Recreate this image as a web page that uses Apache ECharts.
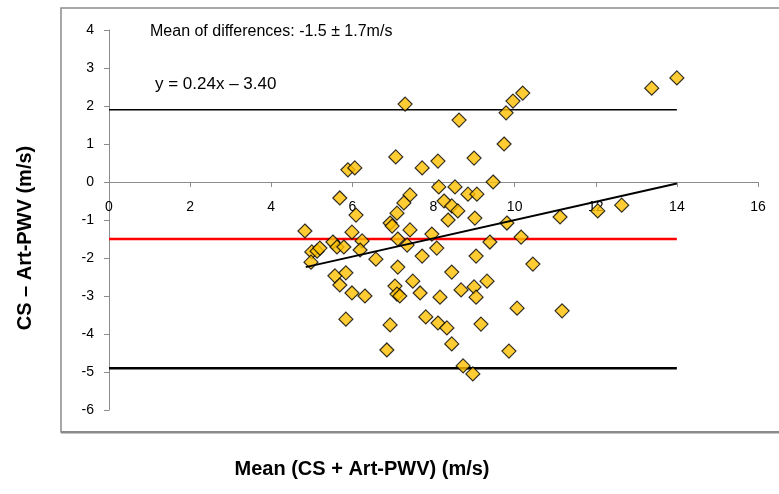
<!DOCTYPE html>
<html lang="en" style="height: 100%">
<head>
    <meta charset="utf-8">
</head>
<body style="height: 100%; margin: 0; background: #fff">
<div id="main" style="width: 779px; height: 494px"></div>

<script type="text/javascript" src="https://fastly.jsdelivr.net/npm/echarts@6.0.0/dist/echarts.min.js"></script>

<script type="text/javascript">
    // mean of the two methods (x) and their difference (y)
    var meanValues = [
        13.38, 14.00, 7.30, 10.20, 9.96, 9.79, 8.63, 9.74, 7.07, 5.89,
        6.06, 8.11, 7.72, 9.00, 9.47, 8.13, 8.53, 8.85, 9.07, 5.69,
        6.09, 7.42, 7.27, 7.10, 6.93, 6.98, 8.26, 8.45, 8.60, 8.36,
        9.02, 9.81, 11.12, 12.05, 12.64, 10.16, 10.45, 11.17, 4.83, 5.99,
        5.52, 5.62, 5.79, 6.24, 6.19, 5.00, 5.13, 5.20, 4.98, 6.58,
        7.12, 7.35, 7.42, 7.96, 8.08, 7.72, 7.12, 9.39, 9.05, 8.45,
        5.57, 5.84, 5.69, 5.99, 6.31, 7.05, 7.10, 7.17, 7.49, 7.67,
        8.16, 8.68, 9.00, 9.05, 9.32, 5.84, 6.93, 7.81, 8.11, 8.33,
        9.17, 10.06, 6.85, 8.45, 9.86, 8.73, 8.97
    ];
    var diffValues = [
        2.47, 2.74, 2.05, 2.34, 2.13, 1.82, 1.63, 1.00, 0.66, 0.32,
        0.37, 0.55, 0.37, 0.63, 0.00, -0.13, -0.13, -0.32, -0.32, -0.42,
        -0.87, -0.34, -0.55, -0.82, -1.08, -1.16, -0.50, -0.63, -0.76, -1.00,
        -0.95, -1.08, -0.92, -0.76, -0.61, -1.45, -2.16, -3.39, -1.29, -1.32,
        -1.58, -1.71, -1.71, -1.55, -1.79, -1.84, -1.82, -1.74, -2.11, -2.03,
        -1.50, -1.66, -1.26, -1.37, -1.74, -1.95, -2.24, -1.58, -1.95, -2.37,
        -2.47, -2.39, -2.71, -2.92, -3.00, -2.74, -2.95, -3.00, -2.61, -2.92,
        -3.03, -2.84, -2.76, -3.03, -2.61, -3.61, -3.76, -3.55, -3.71, -3.84,
        -3.74, -3.32, -4.42, -4.26, -4.45, -4.84, -5.05
    ];

    // limits of agreement and mean difference, drawn from 0 to 14
    var limitX = [0, 14];
    var upperLimit = 1.9;
    var meanDiff = -1.5;
    var lowerLimit = -4.9;

    // regression line y = 0.24x - 3.40
    var trendX = [4.85, 14];
    var trendY = [-2.24, -0.04];

    var xTicks = [0, 16, 2];
    var yTicks = [-6, 4, 1];

    var points = meanValues.map(function (m, i) {
        return [m, diffValues[i]];
    });

    function hLine(v) {
        return limitX.map(function (x) { return [x, v]; });
    }

    var chartDom = document.getElementById('main');
    var myChart = echarts.init(chartDom);
    var labelFont = 'Liberation Sans, Arial, sans-serif';
    var option;

    // grid is 380px tall for 10 units; the x axis sits on y = 0
    var gridTop = 30, gridBottom = 84, plotH = 494 - gridTop - gridBottom;
    var zeroShift = plotH * (0 - yTicks[0]) / (yTicks[1] - yTicks[0]);

    option = {
        animation: false,
        backgroundColor: '#fff',
        grid: {
            left: 109,
            right: 21,
            top: gridTop,
            bottom: gridBottom
        },
        xAxis: {
            type: 'value',
            min: xTicks[0],
            max: xTicks[1],
            interval: xTicks[2],
            position: 'bottom',
            offset: -zeroShift,
            axisLine: {
                onZero: false,
                lineStyle: { color: '#8c8c8c', width: 1 }
            },
            axisTick: { show: true, length: 5, lineStyle: { color: '#8c8c8c' } },
            axisLabel: {
                color: '#000',
                fontSize: 14,
                fontFamily: labelFont,
                margin: 18
            },
            splitLine: { show: false }
        },
        yAxis: {
            type: 'value',
            min: yTicks[0],
            max: yTicks[1],
            interval: yTicks[2],
            axisLine: {
                show: true,
                onZero: false,
                lineStyle: { color: '#8c8c8c', width: 1 }
            },
            axisTick: { show: true, length: 5, lineStyle: { color: '#8c8c8c' } },
            axisLabel: {
                color: '#000',
                fontSize: 14,
                fontFamily: labelFont,
                margin: 15
            },
            splitLine: { show: false }
        },
        graphic: [
            {
                type: 'rect',
                silent: true,
                z: -10,
                shape: { x: 61, y: 8, width: 740, height: 424 },
                style: { fill: 'none', stroke: '#8a8a8a', lineWidth: 1.5 }
            },
            {
                type: 'rect',
                silent: true,
                z: -9,
                shape: { x: 61, y: 431, width: 740, height: 2.5 },
                style: { fill: '#8a8a8a' }
            },
            {
                type: 'text',
                left: 150,
                top: 24,
                style: {
                    text: 'Mean of differences: -1.5 \u00b1 1.7m/s',
                    fontSize: 16,
                    fontFamily: labelFont,
                    fill: '#000'
                }
            },
            {
                type: 'text',
                left: 155,
                top: 76,
                style: {
                    text: 'y = 0.24x \u2013 3.40',
                    fontSize: 17,
                    fontFamily: labelFont,
                    fill: '#000'
                }
            },
            {
                type: 'text',
                x: 25,
                y: 238,
                rotation: Math.PI / 2,
                style: {
                    text: 'CS \u2013 Art-PWV (m/s)',
                    fontSize: 20,
                    fontWeight: 'bold',
                    fontFamily: labelFont,
                    fill: '#000',
                    align: 'center',
                    verticalAlign: 'middle'
                }
            },
            {
                type: 'text',
                x: 362,
                y: 469,
                style: {
                    text: 'Mean (CS + Art-PWV) (m/s)',
                    fontSize: 20,
                    fontWeight: 'bold',
                    fontFamily: labelFont,
                    fill: '#000',
                    align: 'center',
                    verticalAlign: 'middle'
                }
            }
        ],
        series: [
            {
                type: 'line',
                data: hLine(upperLimit),
                symbol: 'none',
                lineStyle: { color: '#000', width: 1.5 },
                z: 2
            },
            {
                type: 'line',
                data: hLine(meanDiff),
                symbol: 'none',
                lineStyle: { color: '#ff0000', width: 2.5 },
                z: 2
            },
            {
                type: 'line',
                data: hLine(lowerLimit),
                symbol: 'none',
                lineStyle: { color: '#000', width: 2.5 },
                z: 2
            },
            {
                type: 'scatter',
                data: points,
                symbol: 'diamond',
                symbolSize: 14,
                itemStyle: {
                    color: '#ffc000',
                    borderColor: '#000',
                    borderWidth: 1.2
                },
                z: 3
            },
            {
                type: 'line',
                data: trendX.map(function (x, i) { return [x, trendY[i]]; }),
                symbol: 'none',
                lineStyle: { color: '#000', width: 2 },
                z: 4
            }
        ]
    };

    option && myChart.setOption(option);
</script>
</body>
</html>
